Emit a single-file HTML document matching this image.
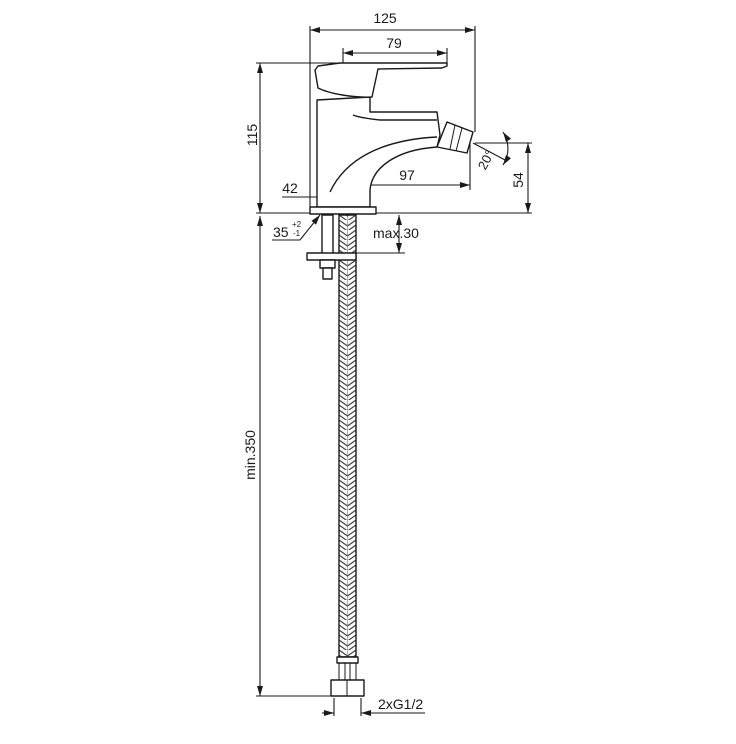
<!DOCTYPE html>
<html><head><meta charset="utf-8"><style>
html,body{margin:0;padding:0;background:#fff;}
svg{display:block;}
text{font-family:"Liberation Sans",sans-serif;fill:#1a1a1a;}
</style></head><body>
<svg width="736" height="744" viewBox="0 0 736 744" xmlns="http://www.w3.org/2000/svg">
<defs>
<marker id="a" viewBox="0 0 10 6" refX="10" refY="3" markerWidth="11" markerHeight="6" orient="auto-start-reverse" markerUnits="userSpaceOnUse">
<path d="M0,0 L10,3 L0,6 z" fill="#1a1a1a"/></marker>
<pattern id="br" width="17" height="10" patternUnits="userSpaceOnUse" x="339" y="0">
<rect width="17" height="10" fill="#fff"/>
<path d="M0,0 L8.5,6 L17,0 M0,5 L8.5,11 L17,5" stroke="#444" stroke-width="1.2" fill="none"/>
<line x1="8.5" y1="0" x2="8.5" y2="10" stroke="#777" stroke-width="0.6"/>
</pattern>
</defs>
<g stroke="#1a1a1a" stroke-width="1.1" fill="none">
<line x1="310" y1="26" x2="310" y2="207"/>
<line x1="475" y1="26" x2="475" y2="132"/>
<line x1="343" y1="48" x2="343" y2="66"/>
<line x1="447" y1="48" x2="447" y2="64"/>
<line x1="256" y1="63" x2="343" y2="63"/>
<line x1="470" y1="135" x2="470" y2="190"/>
<line x1="343" y1="180" x2="343" y2="190"/>
<line x1="370" y1="190" x2="370" y2="200"/>
<line x1="256" y1="213" x2="532" y2="213"/>
<line x1="475" y1="143" x2="532" y2="143"/>
<line x1="356" y1="253" x2="405" y2="253"/>
<line x1="256" y1="696" x2="331" y2="696"/>
<line x1="334" y1="698" x2="334" y2="716"/>
<line x1="361" y1="698" x2="361" y2="716"/>
<line x1="310" y1="30" x2="475" y2="30" marker-start="url(#a)" marker-end="url(#a)"/>
<line x1="343" y1="53" x2="447" y2="53" marker-start="url(#a)" marker-end="url(#a)"/>
<line x1="260" y1="63" x2="260" y2="213" marker-start="url(#a)" marker-end="url(#a)"/>
<line x1="343" y1="185" x2="470" y2="185" marker-start="url(#a)" marker-end="url(#a)"/>
<line x1="282" y1="197" x2="318" y2="197"/>
<line x1="318" y1="197" x2="370" y2="197" marker-start="url(#a)" marker-end="url(#a)"/>
<line x1="528" y1="143" x2="528" y2="213" marker-start="url(#a)" marker-end="url(#a)"/>
<line x1="399" y1="215" x2="399" y2="253" marker-start="url(#a)" marker-end="url(#a)"/>
<line x1="260" y1="216" x2="260" y2="696" marker-start="url(#a)" marker-end="url(#a)"/>
<line x1="322" y1="713" x2="334" y2="713" marker-end="url(#a)"/>
<line x1="425" y1="713" x2="361" y2="713" marker-end="url(#a)"/>
<polyline points="272,240 300,240 320,215" marker-end="url(#a)"/>
<line x1="473" y1="143" x2="505" y2="160"/>
<path d="M503,132 A30,30 0 0 1 503,165" marker-start="url(#a)" marker-end="url(#a)"/>
</g>
<g stroke="#1a1a1a" stroke-width="1.4" fill="#fff" stroke-linejoin="round">
<path d="M317,100 L317,207 L370,207 L370,190 C372,168 395,150 437,147 L440,135 L437,112 L370,112 L370,97 Z"/>
<path d="M315,70 L318,66 L340,63 L447,63 L447,66 L442,68 L378,69 L372,97 C355,98 330,94 318,88 Z"/>
<path d="M353,115 C360,118 372,119 380,120 L437,120"/>
<path d="M330,192 C345,160 380,140 437,137" fill="none"/>
<path d="M447,122 L473,132 L467,153 L437,147 Z"/>
<path d="M455,125 L450,149 M462,128 L456,151" fill="none" stroke-width="1"/>
<rect x="310" y="207" width="66" height="7"/>
<rect x="322" y="215" width="11" height="40"/>
<rect x="339" y="215" width="17" height="442" fill="url(#br)"/>
<rect x="307" y="253" width="49" height="7"/>
<rect x="320" y="260" width="15" height="8"/>
<rect x="323" y="268" width="9" height="11"/>
<rect x="337" y="657" width="21" height="6"/>
<path d="M339,663 L339,680 M356,663 L356,680 M345,663 L345,680 M350,663 L350,680" fill="none" stroke-width="1"/>
<rect x="331" y="680" width="33" height="16"/>
<line x1="347" y1="680" x2="347" y2="696" stroke-width="1"/>
</g>
<text x="385" y="23" font-size="14" text-anchor="middle">125</text>
<text x="394" y="48" font-size="14" text-anchor="middle">79</text>
<text x="407" y="180" font-size="14" text-anchor="middle">97</text>
<text x="290" y="193" font-size="14" text-anchor="middle">42</text>
<text x="257" y="135" font-size="14" text-anchor="middle" transform="rotate(-90 257 135)">115</text>
<text x="523" y="180" font-size="14" text-anchor="middle" transform="rotate(-90 523 180)">54</text>
<text x="255" y="455" font-size="14" text-anchor="middle" transform="rotate(-90 255 455)">min.350</text>
<text x="490" y="162" font-size="13" text-anchor="middle" transform="rotate(-62 490 162)">20°</text>
<text x="273" y="237" font-size="14">35</text>
<text x="292" y="227" font-size="8">+2</text>
<text x="293" y="236" font-size="8">-1</text>
<text x="373" y="238" font-size="14">max.30</text>
<text x="378" y="709" font-size="14">2xG1/2</text>
</svg>
</body></html>
